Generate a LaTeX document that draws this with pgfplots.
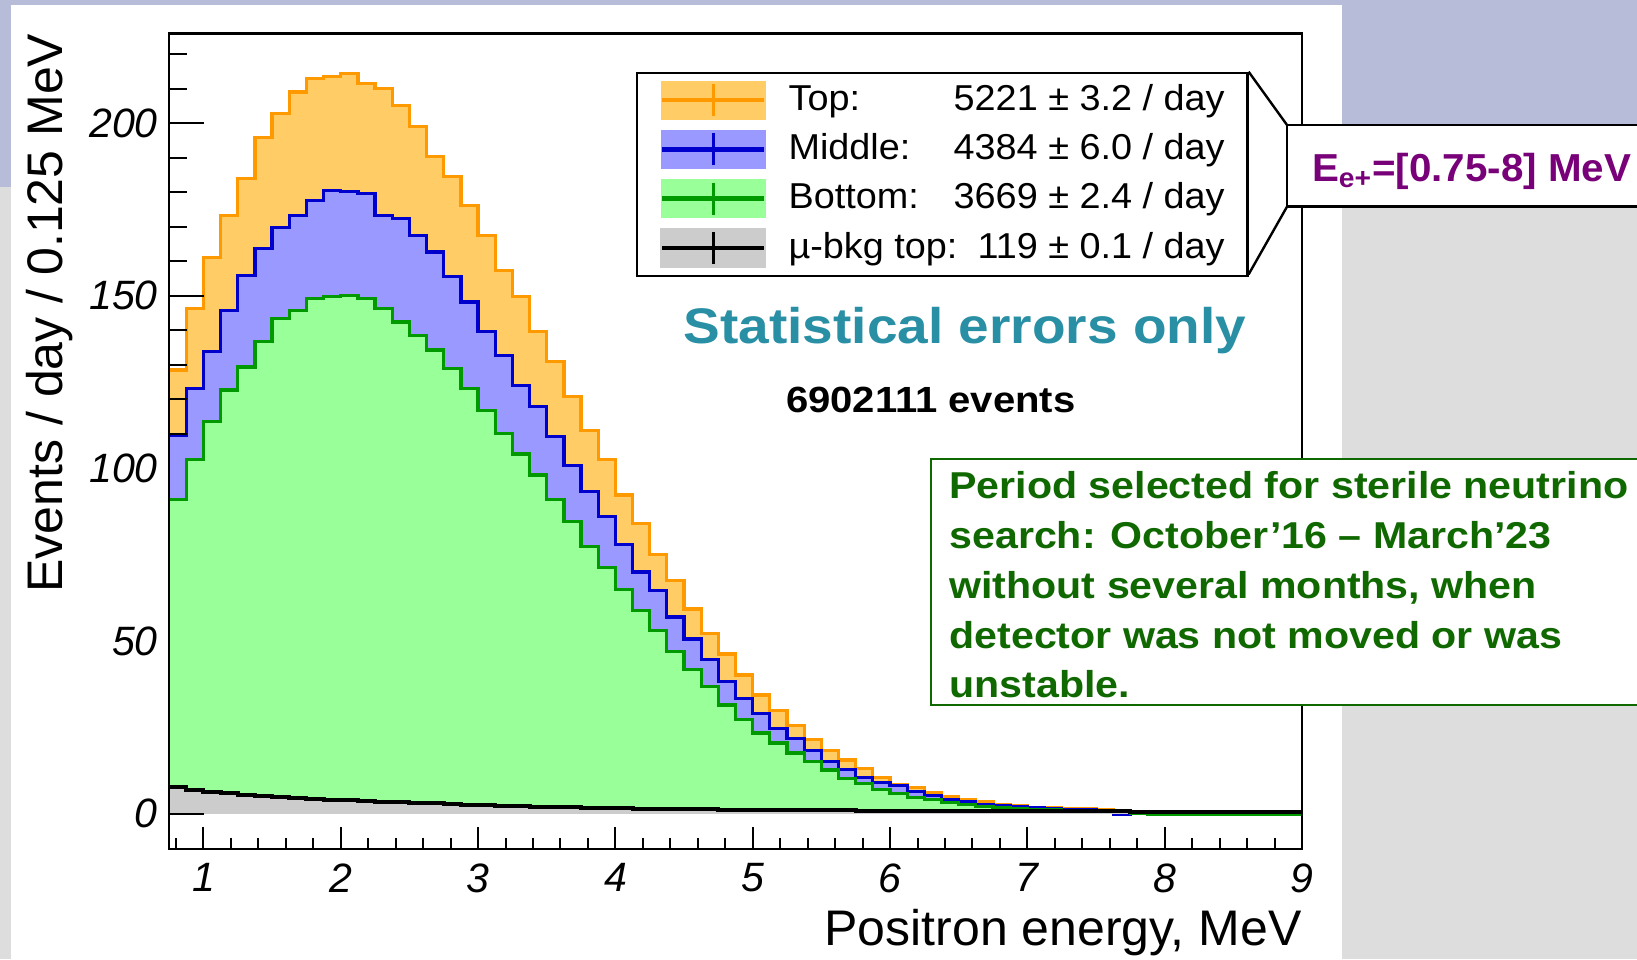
\documentclass[border=0pt]{standalone}
\usepackage{pgfplots}
\pgfplotsset{compat=1.18}
\usepackage{pgfplotstable}
\usepackage{fontspec}
\setmainfont{Liberation Sans}
\newfontfamily\annfont[FakeStretch=1.1]{Liberation Sans}
\newfontfamily\purfont[FakeStretch=1.035]{Liberation Sans}
\newfontfamily\legfont[FakeStretch=1.05]{Liberation Sans}

\definecolor{topfill}{RGB}{255,204,102}
\definecolor{topline}{RGB}{255,153,0}
\definecolor{midfill}{RGB}{153,153,255}
\definecolor{midline}{RGB}{0,0,204}
\definecolor{botfill}{RGB}{153,255,153}
\definecolor{botline}{RGB}{0,153,0}
\definecolor{bkgfill}{RGB}{204,204,204}
\definecolor{bgpurple}{RGB}{183,188,216}
\definecolor{bggray}{RGB}{221,221,221}
\definecolor{statteal}{RGB}{40,143,165}
\definecolor{periodgreen}{RGB}{16,104,0}
\definecolor{epurple}{RGB}{120,0,120}

\pgfplotstableread{
x top mid bot bkg
0.75 128.5 109.7 91.0 7.9
0.875 146.3 123.2 102.6 7.0
1.0 161.0 133.8 113.5 6.4
1.125 173.3 145.8 122.7 6.0
1.25 183.9 156.0 129.4 5.5
1.375 195.8 163.7 136.7 5.1
1.5 202.9 169.9 143.4 4.8
1.625 209.0 173.3 145.8 4.5
1.75 212.9 177.7 149.2 4.3
1.875 213.4 180.6 149.7 4.1
2.0 214.3 180.1 150.2 3.9
2.125 211.4 179.6 149.2 3.7
2.25 210.0 173.3 146.3 3.5
2.375 205.2 172.4 142.4 3.3
2.5 199.1 167.5 138.6 3.1
2.625 190.3 162.7 134.3 3.0
2.75 184.5 155.5 129.0 2.8
2.875 176.2 148.2 123.2 2.6
3.0 167.5 139.6 116.9 2.5
3.125 157.4 132.8 110.2 2.3
3.25 149.7 124.1 104.2 2.2
3.375 139.6 117.9 98.1 2.1
3.5 130.9 109.2 90.9 2.0
3.625 120.9 100.8 84.6 1.9
3.75 111.1 93.3 77.4 1.8
3.875 102.6 86.2 71.3 1.7
4.0 92.3 78.0 65.0 1.6
4.125 84.1 70.0 58.8 1.5
4.25 75.2 64.6 53.0 1.5
4.375 67.5 57.0 47.0 1.4
4.5 59.3 50.6 41.7 1.3
4.625 52.3 44.6 36.8 1.3
4.75 46.3 38.3 31.5 1.2
4.875 40.2 33.5 27.2 1.2
5.0 34.4 29.1 23.4 1.1
5.125 29.9 24.8 20.5 1.1
5.25 25.5 21.9 17.6 1.1
5.375 21.6 18.3 15.1 1.0
5.5 18.3 15.1 12.7 1.0
5.625 15.6 12.9 10.3 1.0
5.75 13.2 10.6 8.7 0.9
5.875 10.6 9.1 7.1 0.9
6.0 8.4 8.1 5.8 0.9
6.125 7.7 6.5 4.7 0.9
6.25 6.2 5.2 4.1 0.8
6.375 5.0 4.1 3.3 0.8
6.5 4.1 3.4 2.6 0.8
6.625 3.4 2.8 2.1 0.8
6.75 2.8 2.3 1.8 0.8
6.875 2.3 2.0 1.5 0.7
7.0 1.9 1.7 1.3 0.7
7.125 1.7 1.5 1.1 0.7
7.25 1.5 1.3 1.0 0.7
7.375 1.4 1.2 0.9 0.7
7.5 1.2 0.8 0.8 0.7
7.625 0.7 -0.3 0.6 0.7
7.75 0.5 0.3 0.2 0.6
7.875 0.5 0.4 -0.2 0.6
8.0 0.5 0.4 -0.2 0.6
8.125 0.5 0.4 -0.2 0.6
8.25 0.5 0.4 -0.2 0.6
8.375 0.5 0.4 -0.2 0.6
8.5 0.5 0.4 -0.2 0.6
8.625 0.5 0.4 -0.2 0.6
8.75 0.5 0.4 -0.2 0.6
8.875 0.5 0.4 -0.2 0.6
9.0 0.5 0.4 -0.2 0.6
}\spec

\pgfplotsset{
  rootframe/.style={
    at={(84.55pt,462.8pt)}, anchor=north west,
    scale only axis, width=566.45pt, height=407.8pt,
    xmin=0.75, xmax=9, ymin=-10.2, ymax=226,
    axis on top,
    tick align=inside,
    tick style={black, line width=1pt},
    axis line style={line width=1.3pt},
    /pgf/number format/assume math mode=true,
    xticklabel style={font=\fontsize{20.5}{24}\selectfont\itshape, inner xsep=0pt, inner ysep=7pt},
    yticklabel style={font=\fontsize{20.5}{24}\selectfont\itshape, inner xsep=5.5pt, inner ysep=0pt},
  }
}

\begin{document}
\begin{tikzpicture}
\path[use as bounding box] (0pt,0pt) rectangle (818.5pt,479.5pt);
\fill[bgpurple] (0pt,386pt) rectangle (818.5pt,479.5pt);
\fill[bggray] (0pt,0pt) rectangle (818.5pt,386pt);
\fill[white] (5.5pt,0pt) rectangle (671pt,477pt);
% main axis: histograms, y ticks, legend
\begin{axis}[
  rootframe,
  xtick=\empty,
  ytick={0,150,200},
  minor ytick={110,120,...,220},
  extra y ticks={50,100},
  extra y tick style={major tick length=0pt},
  ytick pos=left,
  major tick length=17.5pt, minor tick length=9pt,
  ylabel={Events / day / 0.125 MeV},
  ylabel style={at={(axis description cs:-0.0941,1)}, anchor=base east, font=\fontsize{25}{30}\selectfont, inner sep=0pt},
  legend cell align=left,
  legend style={at={(rel axis cs:0.4121,0.953)}, anchor=north west, draw=black, line width=1.2pt, fill=white,
    inner xsep=11.5pt, inner ysep=3.8pt, row sep=5.0pt, column sep=11pt,
    font=\legfont\fontsize{18}{21}\selectfont,
    nodes={inner sep=0pt, text height=14.2pt, text depth=4pt, anchor=west}},
]
% Top
\addplot[const plot, fill=topfill, draw=none, forget plot] table[x=x,y=top]{\spec} \closedcycle;
\addplot[const plot, draw=topline, line width=1.6pt,
  legend image code/.code={\fill[topfill] (0pt,-9pt) rectangle (51pt,9pt);
    \draw[topline,line width=2.2pt] (0pt,0pt)--(51pt,0pt);
    \draw[topline,line width=1.2pt] (25.5pt,-8pt)--(25.5pt,8pt);}]
  table[x=x,y=top]{\spec};
\addlegendentry{\makebox[218pt][l]{Top:\hfill 5221 ± 3.2 / day}}
% Middle
\addplot[const plot, fill=midfill, draw=none, forget plot] table[x=x,y=mid]{\spec} \closedcycle;
\addplot[const plot, draw=midline, line width=1.6pt,
  legend image code/.code={\fill[midfill] (0pt,-9pt) rectangle (51pt,9pt);
    \draw[midline,line width=2.2pt] (0pt,0pt)--(51pt,0pt);
    \draw[midline,line width=1.2pt] (25.5pt,-8pt)--(25.5pt,8pt);}]
  table[x=x,y=mid]{\spec};
\addlegendentry{\makebox[218pt][l]{Middle:\hfill 4384 ± 6.0 / day}}
% Bottom
\addplot[const plot, fill=botfill, draw=none, forget plot] table[x=x,y=bot]{\spec} \closedcycle;
\addplot[const plot, draw=botline, line width=1.6pt,
  legend image code/.code={\fill[botfill] (0pt,-9pt) rectangle (51pt,9pt);
    \draw[botline,line width=2.2pt] (0pt,0pt)--(51pt,0pt);
    \draw[botline,line width=1.2pt] (25.5pt,-8pt)--(25.5pt,8pt);}]
  table[x=x,y=bot]{\spec};
\addlegendentry{\makebox[218pt][l]{Bottom:\hfill 3669 ± 2.4 / day}}
% mu background
\addplot[const plot, fill=bkgfill, draw=none, forget plot] table[x=x,y=bkg]{\spec} \closedcycle;
\addplot[const plot, draw=black, line width=2pt,
  legend image code/.code={\fill[bkgfill] (0pt,-9pt) rectangle (51pt,9pt);
    \draw[black,line width=2.2pt] (0pt,0pt)--(51pt,0pt);
    \draw[black,line width=1.2pt] (25.5pt,-8pt)--(25.5pt,8pt);}]
  table[x=x,y=bkg]{\spec};
\addlegendentry{\makebox[218pt][l]{µ-bkg top:\hfill 119 ± 0.1 / day}}
\end{axis}
% second axis on the same frame: x ticks and x label
\begin{axis}[
  rootframe,
  hide y axis,
  xtick={1,2,3,4,5,6,7,8,9},
  minor xtick={0.8,1,...,9},
  xtick pos=bottom,
  major tick length=11pt, minor tick length=5.5pt,
  xlabel={Positron energy, MeV},
  xlabel style={at={(axis description cs:1,-0.1177)}, anchor=base east, font=\fontsize{25}{30}\selectfont, inner sep=0pt},
]
\end{axis}

% callout for the energy range
\draw[black, line width=1.2pt] (624.3pt,443.65pt) -- (643.5pt,417pt);
\draw[black, line width=1.2pt] (624.3pt,342.3pt) -- (643.5pt,376.15pt);
\draw[black, line width=1.2pt, fill=white] (643.5pt,376.15pt) rectangle (830pt,417pt);
\node[anchor=base west, text=epurple, font=\purfont\bfseries\fontsize{19.5}{22}\selectfont, inner sep=0pt]
  at (655.8pt,388.65pt) {E\textsubscript{e+}=[0.75-8] MeV};

\node[anchor=base, text=statteal, font=\annfont\bfseries\fontsize{25}{28}\selectfont, inner sep=0pt]
  at (482.5pt,307.85pt) {Statistical errors only};
\node[anchor=base, text=black, font=\annfont\bfseries\fontsize{18.2}{21}\selectfont, inner sep=0pt]
  at (465.4pt,273.2pt) {6902111 events};

\draw[periodgreen, line width=1pt, fill=white] (465.25pt,127pt) rectangle (830pt,250.15pt);
\begin{scope}[every node/.style={anchor=base west, text=periodgreen, font=\annfont\bfseries\fontsize{18.7}{22}\selectfont, inner sep=0pt}]
\node at (474.5pt,230.35pt) {Period selected for sterile neutrino};
\node at (474.5pt,205.4pt) {search: October’16 – March’23};
\node at (474.5pt,180.45pt) {without several months, when};
\node at (474.5pt,155.5pt) {detector was not moved or was};
\node at (474.5pt,130.55pt) {unstable.};
\end{scope}
\end{tikzpicture}
\end{document}
